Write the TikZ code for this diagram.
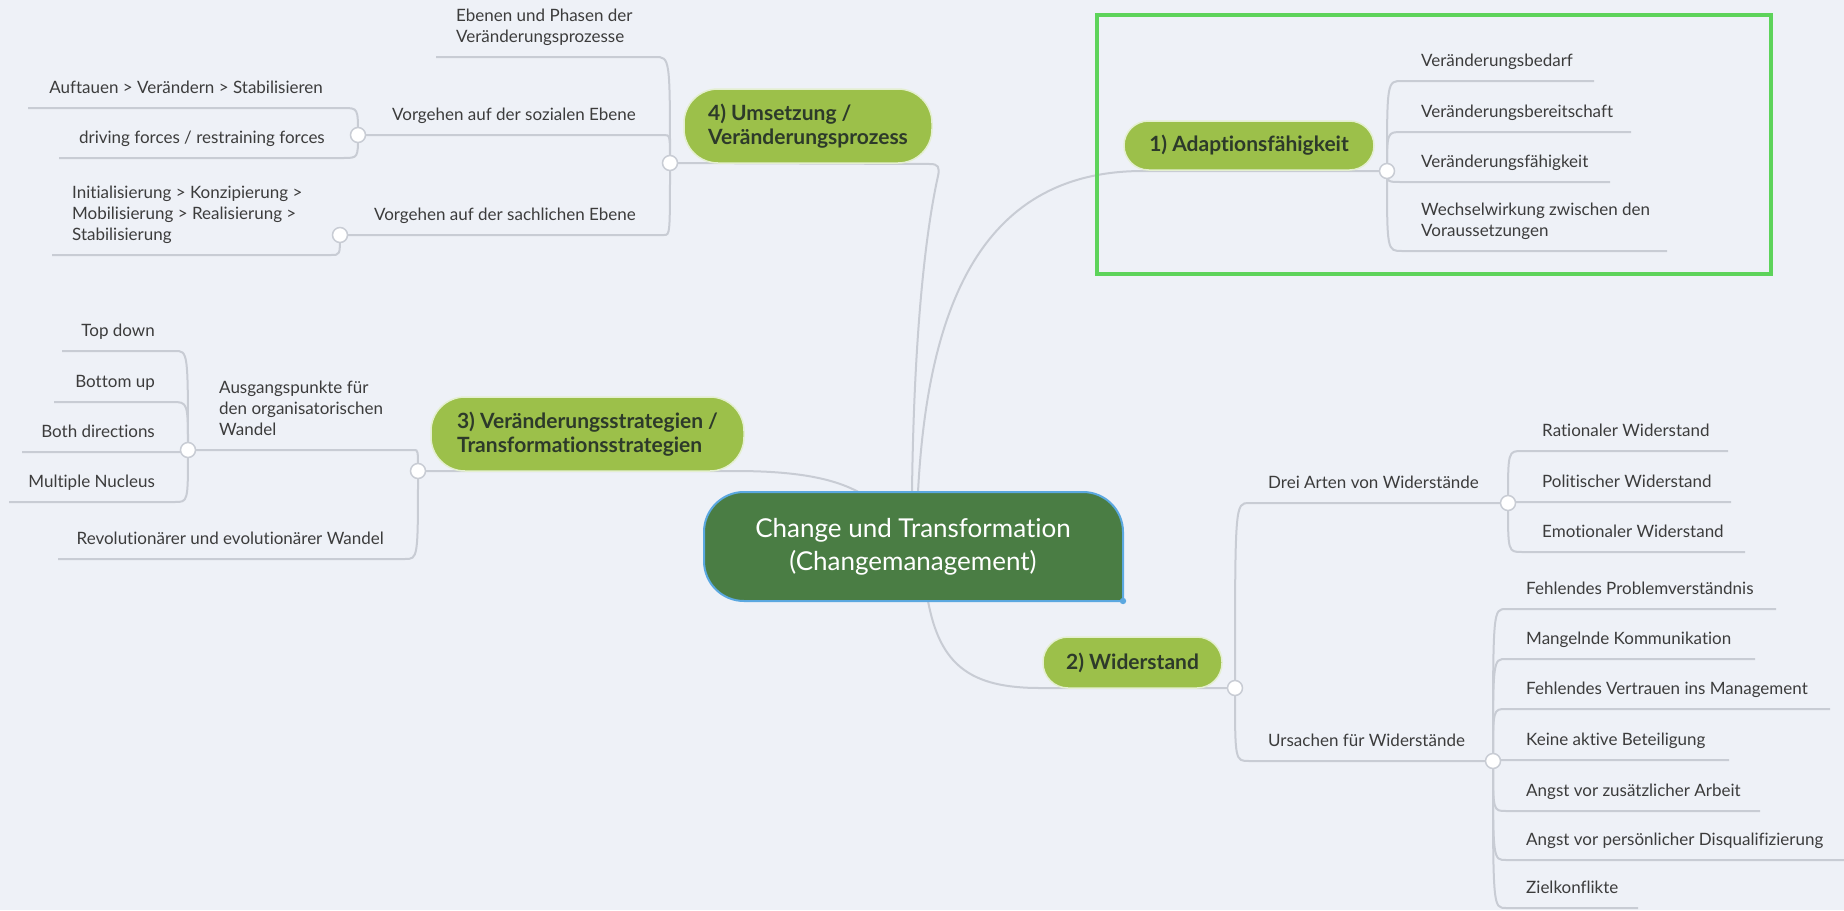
\documentclass[tikz,border=0pt]{standalone}
\usepackage{fontspec}
\setmainfont{Lato}[Ligatures={NoCommon,NoContextual}]
\usetikzlibrary{calc}
\pgfdeclarelayer{bg}
\pgfsetlayers{bg,main}
\definecolor{bgc}{HTML}{EEF1F7}
\definecolor{ln}{HTML}{C8CCD4}
\definecolor{pill}{HTML}{9CC04A}
\definecolor{pillrim}{HTML}{E4EFD0}
\definecolor{centr}{HTML}{4A7D44}
\definecolor{cborder}{HTML}{5BA8E0}
\definecolor{hl}{HTML}{5DD35A}
\definecolor{txt}{HTML}{3C3C3C}
\definecolor{ptxt}{HTML}{2D3A2A}
\newcommand\kidline[3]{\draw[conn] (#1.center) .. controls (#1.center |- #2) .. (#2) -- (#3);}
\tikzset{
  leaf/.style={font=\fontsize{17}{21}\selectfont, text=txt, inner sep=0pt, anchor=base west, align=left},
  leafR/.style={font=\fontsize{17}{21}\selectfont, text=txt, inner sep=0pt, anchor=base east, align=right},
  conn/.style={draw=ln, line width=2pt},
  knob/.style={circle, fill=white, draw=ln, line width=1.5pt, minimum size=15pt, inner sep=0pt},
  topic/.style={fill=pill, draw=pillrim, line width=1.5pt, text=ptxt, font=\fontsize{21}{24}\selectfont\bfseries, inner sep=0pt, align=left},
}
\begin{document}
\begin{tikzpicture}[x=1pt,y=-1pt]
\useasboundingbox (0,0) rectangle (1844,910);

% ---------- root ----------
\coordinate (r1) at (918,492);
\coordinate (r4) at (912,492);
\coordinate (r3) at (862,494);
\coordinate (r2) at (928,601);
\coordinate (rbr) at (1123,601);
\draw[cborder, fill=centr, line width=2pt] (900,601) -- (rbr) -- (1123,540) [rounded corners=40pt] -- (1123,492) -- (704,492) -- (704,601) -- cycle;
\fill[cborder] (rbr) circle (3.2);
\node[text=white, font=\fontsize{26}{33}\selectfont, align=center, inner sep=0pt] (root) at (913,547) {Change und Transformation\\(Changemanagement)};

% ---------- topics ----------
\node[topic, minimum width=250pt, minimum height=49pt, rounded corners=24.5pt, align=center] (n1) at (1249,145.5) {1) Adaptionsfähigkeit};
\node[topic, minimum width=179pt, minimum height=51pt, rounded corners=25pt, align=center] (n2) at (1132.5,662.5) {2) Widerstand};
\node[topic, minimum width=313pt, minimum height=74pt, rounded corners=34pt] (n3) at (587.5,434) {3) Veränderungsstrategien /\\Transformationsstrategien};
\node[topic, minimum width=248pt, minimum height=74pt, rounded corners=34pt] (n4) at (808,126) {4) Umsetzung /\\Veränderungsprozess};

% ---------- knobs ----------
\node[knob] (k1) at (1387,171) {};
\node[knob] (k4) at (670,163) {};
\node[knob] (kS) at (358,135) {};
\node[knob] (kC) at (340,235) {};
\node[knob] (k3) at (418,471) {};
\node[knob] (kA) at (188,450) {};
\node[knob] (k2) at (1235,688) {};
\node[knob] (kD) at (1508,503) {};
\node[knob] (kU) at (1493,761) {};

% ---------- underline ends ----------
% 1)
\coordinate (s1a) at (1402,81);  \coordinate (e1a) at (1594,81);
\coordinate (s1b) at (1402,132); \coordinate (e1b) at (1631,132);
\coordinate (s1c) at (1402,182); \coordinate (e1c) at (1610,182);
\coordinate (s1d) at (1402,251); \coordinate (e1d) at (1667,251);
% 4)
\coordinate (s4a) at (655,57);  \coordinate (e4a) at (436,57);
\coordinate (s4b) at (664,135);
\coordinate (s4c) at (664,235);
\coordinate (sSa) at (343,108); \coordinate (eSa) at (28,108);
\coordinate (sSb) at (343,158); \coordinate (eSb) at (59,158);
\coordinate (sCa) at (331,255); \coordinate (eCa) at (52,255);
% 3)
\coordinate (s3a) at (414,450);
\coordinate (s3b) at (405,559); \coordinate (e3b) at (58,559);
\coordinate (sAa) at (175,351); \coordinate (eAa) at (62,351);
\coordinate (sAb) at (172,402); \coordinate (eAb) at (54,402);
\coordinate (sAc) at (175,452); \coordinate (eAc) at (22,452);
\coordinate (sAd) at (175,502); \coordinate (eAd) at (9,502);
% 2)
\coordinate (s2a) at (1249,503);
\coordinate (s2b) at (1249,761);
\coordinate (sDa) at (1522,451); \coordinate (eDa) at (1728,451);
\coordinate (sDb) at (1522,502); \coordinate (eDb) at (1731,502);
\coordinate (sDc) at (1522,552); \coordinate (eDc) at (1745,552);
\coordinate (sUa) at (1506,609); \coordinate (eUa) at (1776,609);
\coordinate (sUb) at (1506,659); \coordinate (eUb) at (1755,659);
\coordinate (sUc) at (1506,709); \coordinate (eUc) at (1830,709);
\coordinate (sUd) at (1506,760); \coordinate (eUd) at (1729,760);
\coordinate (sUe) at (1506,811); \coordinate (eUe) at (1760,811);
\coordinate (sUf) at (1506,860); \coordinate (eUf) at (1850,860);
\coordinate (sUg) at (1506,908); \coordinate (eUg) at (1638,908);

% ---------- texts (base = last line) ----------
\node[leaf] (t1a) at (1421,66) {Veränderungsbedarf};
\node[leaf] (t1b) at (1421,117) {Veränderungsbereitschaft};
\node[leaf] (t1c) at (1421,167) {Veränderungsfähigkeit};
\node[leaf] (t1d) at (1421,236) {Wechselwirkung zwischen den\\Voraussetzungen};

\node[leaf] (t4a) at (456,42) {Ebenen und Phasen der\\Veränderungsprozesse};
\node[leafR] (t4b) at (636,120) {Vorgehen auf der sozialen Ebene};
\node[leafR] (t4c) at (636,220) {Vorgehen auf der sachlichen Ebene};
\node[leafR] (tSa) at (323,93) {Auftauen > Verändern > Stabilisieren};
\node[leafR] (tSb) at (325,143) {driving forces / restraining forces};
\node[leaf] (tCa) at (72,240) {Initialisierung > Konzipierung >\\Mobilisierung > Realisierung >\\Stabilisierung};

\node[leaf] (t3a) at (219,435) {Ausgangspunkte für\\den organisatorischen\\Wandel};
\node[leafR] (t3b) at (384,544) {Revolutionärer und evolutionärer Wandel};
\node[leafR] (tAa) at (155,336) {Top down};
\node[leafR] (tAb) at (155,387) {Bottom up};
\node[leafR] (tAc) at (155,437) {Both directions};
\node[leafR] (tAd) at (155,487) {Multiple Nucleus};

\node[leaf] (t2a) at (1268,488) {Drei Arten von Widerstände};
\node[leaf] (t2b) at (1268,746) {Ursachen für Widerstände};
\node[leaf] (tDa) at (1542,436) {Rationaler Widerstand};
\node[leaf] (tDb) at (1542,487) {Politischer Widerstand};
\node[leaf] (tDc) at (1542,537) {Emotionaler Widerstand};
\node[leaf] (tUa) at (1526,594) {Fehlendes Problemverständnis};
\node[leaf] (tUb) at (1526,644) {Mangelnde Kommunikation};
\node[leaf] (tUc) at (1526,694) {Fehlendes Vertrauen ins Management};
\node[leaf] (tUd) at (1526,745) {Keine aktive Beteiligung};
\node[leaf] (tUe) at (1526,796) {Angst vor zusätzlicher Arbeit};
\node[leaf] (tUf) at (1526,845) {Angst vor persönlicher Disqualifizierung};
\node[leaf] (tUg) at (1526,893) {Zielkonflikte};

% ---------- highlight ----------
\draw[hl, line width=3.5pt] (1097,15) rectangle (1771,274);

% ---------- connectors (background layer) ----------
\begin{pgfonlayer}{bg}
\fill[bgc] (0,0) rectangle (1844,910);
% root to topics
\draw[conn] (r1) .. controls (928,300) and (985,171) .. (1143,171) -- (k1.center);
\draw[conn] (r4) .. controls (914,330) and (926,230) .. (938,176) .. controls (940,167) and (938,164) .. (930,164) -- (k4.center);
\draw[conn] (r3) .. controls (835,478) and (795,471) .. (735,471) -- (k3.center);
\draw[conn] (r2) .. controls (940,665) and (970,688) .. (1040,688) -- (k2.center);
% 1)
\kidline{k1}{s1a}{e1a}
\kidline{k1}{s1b}{e1b}
\kidline{k1}{s1c}{e1c}
\kidline{k1}{s1d}{e1d}
% 4)
\kidline{k4}{s4a}{e4a}
\kidline{k4}{s4b}{kS.center}
\kidline{k4}{s4c}{kC.center}
\kidline{kS}{sSa}{eSa}
\kidline{kS}{sSb}{eSb}
\kidline{kC}{sCa}{eCa}
% 3)
\kidline{k3}{s3a}{kA.center}
\kidline{k3}{s3b}{e3b}
\kidline{kA}{sAa}{eAa}
\kidline{kA}{sAb}{eAb}
\kidline{kA}{sAc}{eAc}
\kidline{kA}{sAd}{eAd}
% 2)
\kidline{k2}{s2a}{kD.center}
\kidline{k2}{s2b}{kU.center}
\kidline{kD}{sDa}{eDa}
\kidline{kD}{sDb}{eDb}
\kidline{kD}{sDc}{eDc}
\kidline{kU}{sUa}{eUa}
\kidline{kU}{sUb}{eUb}
\kidline{kU}{sUc}{eUc}
\kidline{kU}{sUd}{eUd}
\kidline{kU}{sUe}{eUe}
\kidline{kU}{sUf}{eUf}
\kidline{kU}{sUg}{eUg}
\end{pgfonlayer}
\end{tikzpicture}
\end{document}
